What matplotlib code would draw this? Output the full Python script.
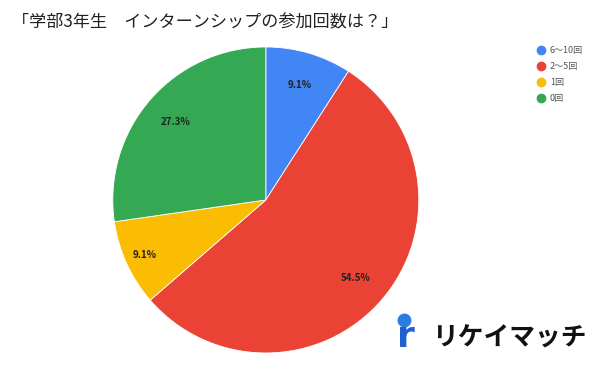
import matplotlib.pyplot as plt
from matplotlib.lines import Line2D
import numpy as np

plt.rcParams['font.family'] = ['Noto Sans CJK JP', 'DejaVu Sans']

# data
categories = ['6〜10回', '2〜5回', '1回', '0回']
counts = [1, 6, 1, 3]
colors = ['#4285F4', '#EA4335', '#FBBC04', '#34A853']
title = '「学部3年生　インターンシップの参加回数は？」'

fig = plt.figure(figsize=(6, 3.71), dpi=100)
ax = fig.add_axes([0.188, 0.0485, 0.51, 0.825])

wedges, texts, autotexts = ax.pie(
    counts, colors=colors, startangle=90, counterclock=False,
    autopct='%1.1f%%', pctdistance=0.78,
    wedgeprops=dict(edgecolor='white', linewidth=0.6),
    textprops=dict(fontsize=7, fontweight='bold', color='#222222'))
ax.set_aspect('equal')
ax.set_xlim(-1, 1)
ax.set_ylim(-1, 1)

# push the small yellow label a little further out like the original
for i, (w, t) in enumerate(zip(wedges, autotexts)):
    ang = np.deg2rad((w.theta1 + w.theta2) / 2)
    d = 0.87 if i == 2 else 0.78
    t.set_position((d * np.cos(ang), d * np.sin(ang)))

fig.text(12 / 600, 1 - 22 / 371, title, fontsize=12.3, va='center', ha='left', color='#222222')

# legend
leg_y = [50, 66, 82, 98]
for c, lab, y in zip(colors, categories, leg_y):
    fig.add_artist(Line2D([541 / 600], [1 - y / 371], marker='o', markersize=6,
                          color=c, linestyle='none', transform=fig.transFigure))
    fig.text(550 / 600, 1 - y / 371, lab, fontsize=6.5, va='center', ha='left', color='#555555')

# logo
fig.add_artist(Line2D([404 / 600], [1 - 320 / 371], marker='o', markersize=9,
                      color='#2a7de1', linestyle='none', transform=fig.transFigure))
fig.text(397 / 600, 1 - 337 / 371, 'r', fontsize=26, fontweight='bold', color='#1f5fcf',
         va='center', ha='left', family='DejaVu Sans')
fig.text(432 / 600, 1 - 338 / 371, 'リケイマッチ', fontsize=18.5, fontweight='bold',
         color='#111111', va='center', ha='left')

fig.savefig('out.png', dpi=100)
